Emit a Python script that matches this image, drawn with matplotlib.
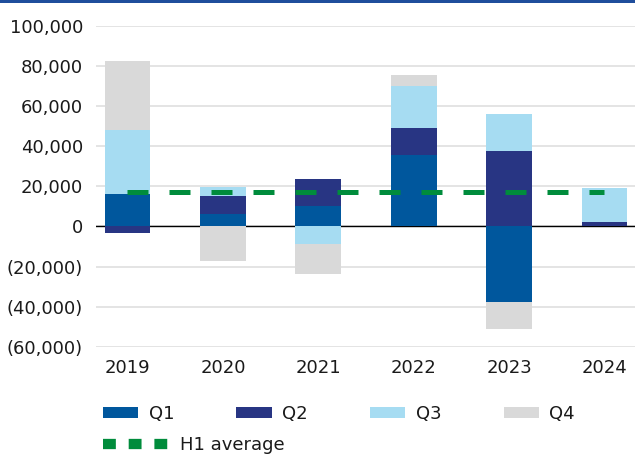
import numpy as np
import matplotlib
matplotlib.use("Agg")
from matplotlib import pyplot
from matplotlib.lines import Line2D
from matplotlib.patches import Patch, Rectangle
from matplotlib.ticker import FuncFormatter

years = ["2019", "2020", "2021", "2022", "2023", "2024"]
q1 = [16000, 6400, 10000, 35800, -37500, 0]
q2 = [-3500, 9000, 13800, 13500, 37800, 2300]
q3 = [32000, 4500, -8700, 21000, 18200, 16900]
q4 = [34500, -17200, -15000, 5500, -13800, 0]
h1_average = 17300

quarters = ["Q1", "Q2", "Q3", "Q4"]
colors = ["#00579D", "#283583", "#A6DCF2", "#D9D9D9"]
green = "#008C3C"
text_color = "#1a1a1a"

pyplot.rcParams["font.family"] = ["DejaVu Sans"]
pyplot.rcParams["font.size"] = 13

fig = pyplot.figure(figsize=(6.35, 4.54), dpi=100)
ax = fig.add_axes([96 / 635, 1 - 346.7 / 454, 1 - 96 / 635, (346.7 - 26) / 454])

x = np.arange(len(years))
pos_bottom = np.zeros(len(years))
neg_bottom = np.zeros(len(years))
for values, color in zip([q1, q2, q3, q4], colors):
    v = np.array(values, dtype=float)
    bottom = np.where(v >= 0, pos_bottom, neg_bottom)
    ax.bar(x, v, bottom=bottom, width=0.48, color=color, linewidth=0, zorder=3)
    pos_bottom += np.where(v > 0, v, 0)
    neg_bottom += np.where(v < 0, v, 0)

ax.plot([x[0], x[-1]], [h1_average, h1_average], color=green, linewidth=3.6,
        dashes=(4.2, 4.2), solid_capstyle="butt", zorder=4)

ax.axhline(0, color="black", linewidth=1.0, zorder=2)

ax.set_xlim(-0.33, 5.32)
ax.set_ylim(-60000, 100000)
ax.set_yticks(np.arange(-60000, 100001, 20000))
ax.yaxis.set_major_formatter(FuncFormatter(
    lambda v, pos: f"({abs(v):,.0f})" if v < 0 else f"{v:,.0f}"))
ax.set_xticks(x)
ax.set_xticklabels(years)
ax.tick_params(axis="both", length=0, labelcolor=text_color, labelsize=13)
ax.tick_params(axis="y", pad=9.4)
ax.tick_params(axis="x", pad=9)
ax.yaxis.grid(True, color="#DCDCDC", linewidth=1.1, zorder=0)
ax.set_axisbelow(True)
for spine in ax.spines.values():
    spine.set_visible(False)

# quarter legend
quarter_handles = [Patch(facecolor=c, edgecolor="none") for c in colors]
leg1 = fig.legend(quarter_handles, quarters, loc="center left",
                  bbox_to_anchor=(103 / 635, 1 - 414 / 454), ncol=4,
                  frameon=False, borderpad=0, borderaxespad=0,
                  handlelength=1.94, handleheight=0.55, handletextpad=0.59,
                  columnspacing=3.45, fontsize=13, labelcolor=text_color)

# H1 average legend
h1_handle = Line2D([0], [0], color=green, linewidth=7.4, dashes=(1.25, 1.25))
leg2 = fig.legend([h1_handle], ["H1 average"], loc="center left",
                  bbox_to_anchor=(103 / 635, 1 - 445 / 454),
                  frameon=False, borderpad=0, borderaxespad=0,
                  handlelength=3.7, handletextpad=0.55, fontsize=13,
                  labelcolor=text_color)

# top banner stripe
fig.add_artist(Rectangle((0, 1 - 3 / 454), 1, 3 / 454, transform=fig.transFigure,
                         color="#1F4E9C", linewidth=0))

fig.savefig("out.png", dpi=100)
